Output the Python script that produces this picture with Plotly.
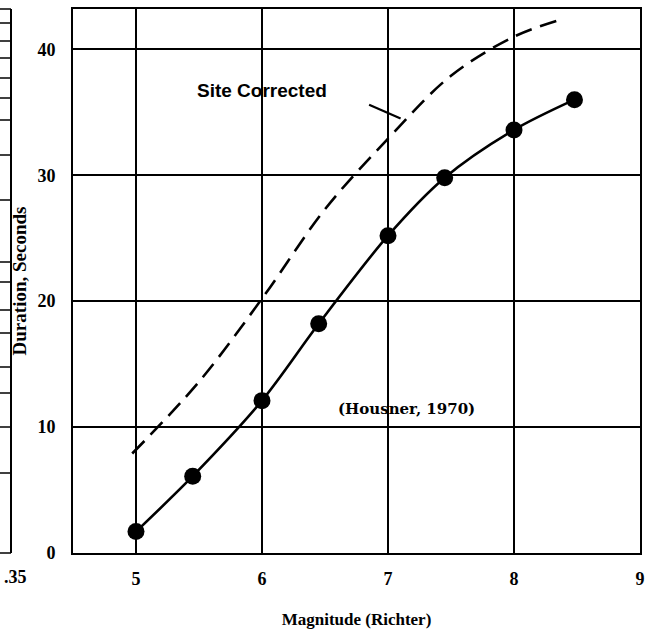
import plotly.graph_objects as go

# Data
mag_housner = [5.0, 5.45, 6.0, 6.45, 7.0, 7.45, 8.0, 8.48]
dur_housner = [1.7, 6.1, 12.1, 18.2, 25.2, 29.8, 33.6, 36.0]

mag_site = [4.97, 5.5, 6.0, 6.5, 7.0, 7.5, 8.0, 8.35]
dur_site = [7.9, 13.6, 20.2, 27.3, 32.9, 37.9, 41.0, 42.3]

x_ticks = [5, 6, 7, 8, 9]
x_ticklabels = ["5", "6", "7", "8", "9"]
y_ticks = [0, 10, 20, 30, 40]
y_ticklabels = ["0", "10", "20", "30", "40"]

fig = go.Figure()

fig.add_trace(go.Scatter(
    x=mag_site, y=dur_site, mode="lines",
    line=dict(color="black", width=2.6, dash="17px,9px", shape="spline", smoothing=1.0),
    showlegend=False, hoverinfo="skip"))

fig.add_trace(go.Scatter(
    x=mag_housner, y=dur_housner, mode="lines+markers",
    line=dict(color="black", width=2.6, shape="spline", smoothing=0.9),
    marker=dict(color="black", size=17),
    showlegend=False))

serif = "Liberation Serif"
sans = "Liberation Sans"

fig.update_layout(
    width=661, height=631,
    margin=dict(l=73, r=21, t=9, b=78, autoexpand=False),
    paper_bgcolor="white", plot_bgcolor="white",
    xaxis=dict(range=[4.5, 9.0], tickvals=x_ticks, ticktext=x_ticklabels,
               showgrid=True, gridcolor="black", gridwidth=1.5,
               showline=True, linecolor="black", linewidth=2, mirror=True,
               zeroline=False, ticks="", ticklabelstandoff=8, automargin=False,
               tickfont=dict(family=serif, size=18, color="black", weight="bold"),
               title=dict(text="Magnitude (Richter)", standoff=26,
                          font=dict(family=serif, size=17, color="black", weight="bold"))),
    yaxis=dict(range=[0, 43.2], tickvals=y_ticks, ticktext=y_ticklabels,
               showgrid=True, gridcolor="black", gridwidth=1.5,
               showline=True, linecolor="black", linewidth=2, mirror=True,
               zeroline=False, ticks="", ticklabelstandoff=12, automargin=False,
               tickfont=dict(family=serif, size=18, color="black", weight="bold"),
               title=dict(text="Duration, Seconds", standoff=6,
                          font=dict(family=serif, size=19, color="black", weight="bold"))),
)

fig.add_annotation(x=6.0, y=36.7, text="Site Corrected", showarrow=False,
                   font=dict(family=sans, size=19, color="black", weight="bold"))
fig.add_annotation(x=7.15, y=11.4, text="(Housner, 1970)", showarrow=False,
                   font=dict(family="DejaVu Serif", size=15, color="black", weight="bold"))
# leader line from label to the dashed curve
fig.add_shape(type="line", x0=6.85, y0=35.6, x1=7.1, y1=34.5,
              line=dict(color="black", width=2.2))

# fragment of neighbouring figure at left edge (scan artefact)
def px(xp):
    return (xp - 73) / 567.0

def py(yp):
    return (553 - yp) / 544.0

fig.add_shape(type="line", xref="paper", yref="paper",
              x0=px(11), x1=px(11), y0=py(9), y1=py(553),
              line=dict(color="black", width=2))
for yy in [9, 23, 41, 58, 78, 98, 120, 155, 200, 262, 282, 310, 333, 367, 393, 427, 473, 553]:
    fig.add_shape(type="line", xref="paper", yref="paper",
                  x0=px(0), x1=px(11), y0=py(yy), y1=py(yy),
                  line=dict(color="black", width=1.5))
fig.add_annotation(xref="paper", yref="paper", x=px(15), y=py(577), text=".35",
                   xanchor="center", yanchor="middle",
                   showarrow=False, font=dict(family=serif, size=18, color="black", weight="bold"))

fig.write_html("out.html")
